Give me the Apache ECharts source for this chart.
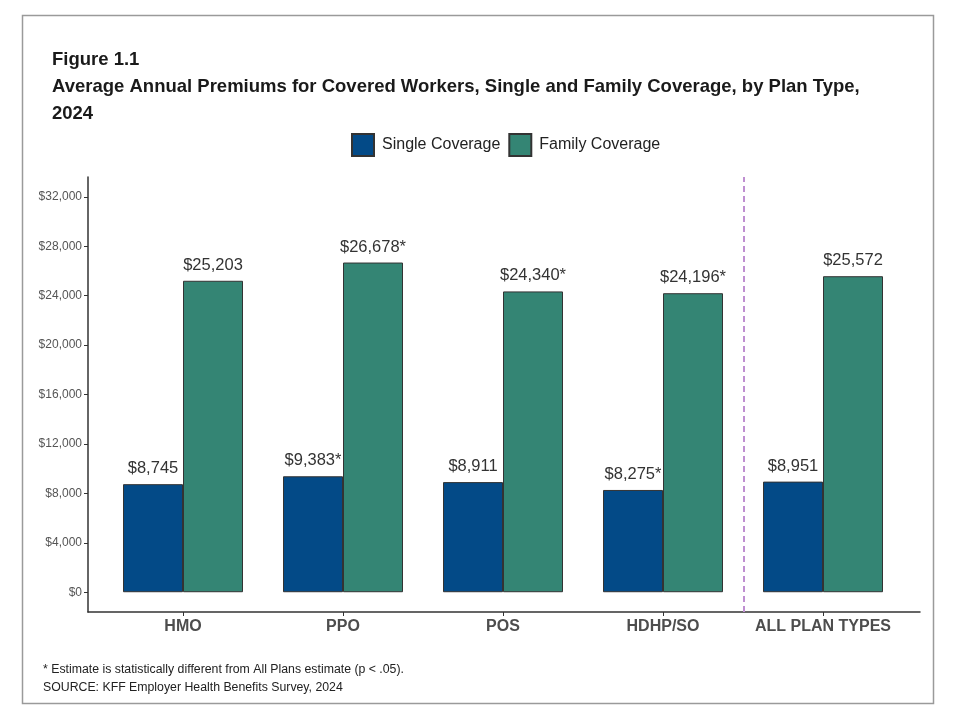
<!DOCTYPE html>
<html>
<head>
<meta charset="utf-8">
<script src="https://cdn.jsdelivr.net/npm/echarts@6/dist/echarts.min.js"></script>
<style>html,body{margin:0;padding:0;background:#fff;}#c{width:960px;height:720px;}</style>
</head>
<body>
<div id="c"></div>
<script>
const categories = ['HMO', 'PPO', 'POS', 'HDHP/SO', 'ALL PLAN TYPES'];
const singleValues = [8745, 9383, 8911, 8275, 8951];
const familyValues = [25203, 26678, 24340, 24196, 25572];
const singleSig = [false, true, false, true, false];
const familySig = [false, true, true, true, false];
const yTicks = [0, 4000, 8000, 12000, 16000, 20000, 24000, 28000, 32000];
const dividerAt = 4.5; // between HDHP/SO (4) and ALL PLAN TYPES (5)

const FONT = 'Liberation Sans, Arial, sans-serif';
const fmt = v => '$' + v.toLocaleString('en-US');

const chart = echarts.init(document.getElementById('c'), null, {renderer: 'canvas'});
const gridTop = 177, gridHeight = 435;
chart.setOption({
  animation: false,
  backgroundColor: '#fff',
  textStyle: {fontFamily: FONT},
  title: {
    text: 'Figure 1.1\nAverage Annual Premiums for Covered Workers, Single and Family Coverage, by Plan Type,\n2024',
    left: 52, top: 46, padding: 0,
    textStyle: {fontFamily: FONT, fontSize: 18.5, fontWeight: 'bold', color: '#1a1a1a', lineHeight: 27}
  },
  legend: {
    left: 351, top: 133, padding: 0,
    icon: 'rect',
    itemWidth: 22, itemHeight: 22, itemGap: 8,
    textStyle: {fontFamily: FONT, fontSize: 16, color: '#222', padding: [0, 0, 0, 3]},
    data: ['Single Coverage', 'Family Coverage']
  },
  grid: [
    {left: 103, width: 800, top: gridTop, height: gridHeight},
    {left: 88, width: 832, top: gridTop, height: gridHeight}
  ],
  xAxis: [
    {
      type: 'category', gridIndex: 0, data: categories,
      axisLine: {show: false, onZero: false},
      axisTick: {show: true, alignWithLabel: true, length: 4, lineStyle: {color: '#333', width: 1}},
      axisLabel: {interval: 0, fontFamily: FONT, fontSize: 16, fontWeight: 'bold', color: '#4d4d4d', margin: 7}
    },
    {
      type: 'value', gridIndex: 1, min: 0.4, max: 5.6,
      axisLine: {show: true, onZero: false, lineStyle: {color: '#333', width: 1.5}},
      axisTick: {show: false}, axisLabel: {show: false}, splitLine: {show: false}
    }
  ],
  yAxis: [
    {type: 'value', gridIndex: 0, min: -1600, max: 33600, show: false, splitLine: {show: false}},
    {
      type: 'value', gridIndex: 1, min: -1600, max: 33600,
      axisLine: {show: true, onZero: false, lineStyle: {color: '#333', width: 1.5}},
      axisTick: {show: true, length: 4, customValues: yTicks, lineStyle: {color: '#333'}},
      axisLabel: {customValues: yTicks, formatter: v => fmt(v), fontFamily: FONT, fontSize: 12, color: '#555', margin: 6},
      splitLine: {show: false}
    }
  ],
  series: [
    {
      name: 'Single Coverage', type: 'bar', xAxisIndex: 0, yAxisIndex: 0,
      data: singleValues, barWidth: 60, barGap: '0%',
      itemStyle: {color: '#034a87', borderColor: '#333', borderWidth: 1},
      label: {show: true, position: 'top', distance: 7, fontFamily: FONT, fontSize: 16.5, color: '#333',
        formatter: p => fmt(p.value) + (singleSig[p.dataIndex] ? '*' : '')}
    },
    {
      name: 'Family Coverage', type: 'bar', xAxisIndex: 0, yAxisIndex: 0,
      data: familyValues, barWidth: 60, barGap: '0%',
      itemStyle: {color: '#348574', borderColor: '#333', borderWidth: 1},
      label: {show: true, position: 'top', distance: 7, fontFamily: FONT, fontSize: 16.5, color: '#333',
        formatter: p => fmt(p.value) + (familySig[p.dataIndex] ? '*' : '')}
    },
    {
      type: 'line', xAxisIndex: 1, yAxisIndex: 1, data: [], silent: true,
      markLine: {
        silent: true, symbol: 'none', label: {show: false},
        lineStyle: {type: [6, 4], color: '#bf8fd1', width: 2},
        data: [{xAxis: dividerAt}]
      }
    }
  ],
  graphic: [
    {type: 'rect', shape: {x: 22.5, y: 15.5, width: 911, height: 688}, style: {fill: 'none', stroke: '#9a9a9a', lineWidth: 1.5}, silent: true},
    {type: 'text', left: 43, top: 664, style: {text: '* Estimate is statistically different from All Plans estimate (p < .05).', font: '12.3px ' + FONT, fill: '#222'}},
    {type: 'text', left: 43, top: 682, style: {text: 'SOURCE: KFF Employer Health Benefits Survey, 2024', font: '12.3px ' + FONT, fill: '#222'}}
  ]
});
</script>
</body>
</html>
